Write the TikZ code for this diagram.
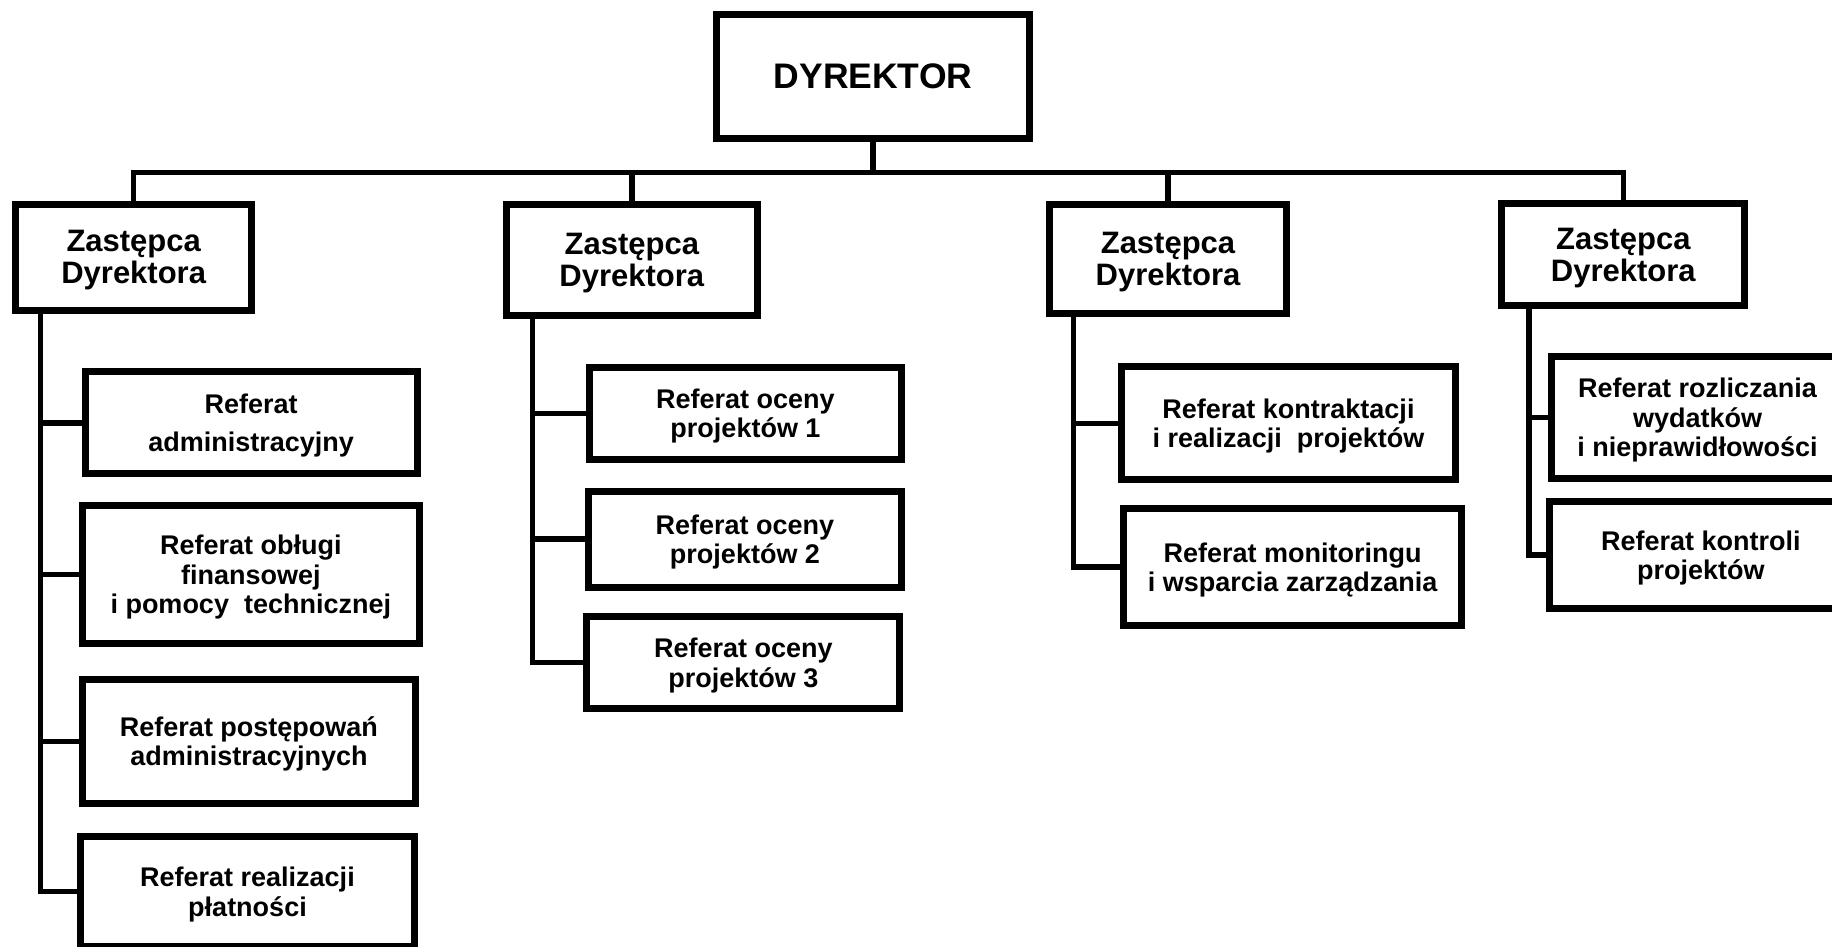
\documentclass[tikz,border=0pt]{standalone}
\usepackage{fontspec}
\setmainfont{Liberation Sans}
\begin{document}
\begin{tikzpicture}[x=1pt,y=-1pt,
  box/.style={draw, line width=7pt, fill=white, inner sep=0pt, align=center,
    text depth=0pt, font=\bfseries\fontsize{27}{29.5}\selectfont},
  deputy/.style={box, font=\bfseries\fontsize{31}{32}\selectfont},
  chief/.style={box, font=\bfseries\fontsize{35.5}{40}\selectfont},
  wh/.style 2 args={minimum width=#1pt, minimum height=#2pt},
  conn/.style={line width=5.5pt, line join=miter},
]
\useasboundingbox (0,0) rectangle (1832,946);
\fill[white] (0,0) rectangle (1832,946);
\clip (0,0) rectangle (1832,946);

% top level
\node[chief, wh={313.6}{123.7}] (dyr) at (873,76.3) {DYREKTOR};

% deputies
\node[deputy, wh={235.7}{106.3}] (z1) at (133.7,257.3) {Zastępca\\Dyrektora};
\node[deputy, wh={251.3}{111.3}] (z2) at (631.8,259.8) {Zastępca\\Dyrektora};
\node[deputy, wh={237}{109}]     (z3) at (1168,258.7)  {Zastępca\\Dyrektora};
\node[deputy, wh={243}{102.3}]   (z4) at (1623.3,254.7) {Zastępca\\Dyrektora};

% units under deputy 1
\node[box, wh={332}{102}]     (a1) at (251.2,422.8) {Referat\\[9pt]administracyjny};
\node[box, wh={336.7}{137.4}] (a2) at (250.8,574.5) {Referat obługi\\finansowej\\i pomocy\ \ technicznej};
\node[box, wh={333}{123.7}]   (a3) at (249,741.3)   {Referat postępowań\\administracyjnych};
\node[box, wh={334.6}{109.7}] (a4) at (247.5,891.7) {Referat realizacji\\płatności};

% units under deputy 2
\node[box, wh={312}{91.7}] (b1) at (745.5,413.3) {Referat oceny\\projektów 1};
\node[box, wh={313}{96}]   (b2) at (745,539.2)   {Referat oceny\\projektów 2};
\node[box, wh={313}{91.4}] (b3) at (743.3,662.5) {Referat oceny\\projektów 3};

% units under deputy 3
\node[box, wh={334.6}{113}]   (c1) at (1288.5,423.3) {Referat kontraktacji\\i realizacji\ \ projektów};
\node[box, wh={337.6}{116.7}] (c2) at (1292.7,567.2) {Referat monitoringu\\i wsparcia zarządzania};

% units under deputy 4
\node[box, wh={291.4}{121.4}] (d1) at (1697.5,417.5) {Referat rozliczania\\wydatków\\i nieprawidłowości};
\node[box, wh={303.2}{107.3}] (d2) at (1700.8,555.2) {Referat kontroli\\projektów};

% main bus
\coordinate (bus) at (0,172.5);
\draw[conn] (dyr.south) -- (dyr.south |- bus);
\draw[conn] (z1.north) -- (z1.north |- bus) -- (z4.north |- bus) -- (z4.north);
\draw[conn] (z2.north) -- (z2.north |- bus);
\draw[conn] (z3.north) -- (z3.north |- bus);

% vertical stems
\coordinate (s1) at (40.5,0);
\coordinate (s2) at (532.3,0);
\coordinate (s3) at (1073.3,0);
\coordinate (s4) at (1529,0);

\draw[conn] (z1.south -| s1) |- (a4.west);
\draw[conn] (a1.west) -- (a1.west -| s1);
\draw[conn] (a2.west) -- (a2.west -| s1);
\draw[conn] (a3.west) -- (a3.west -| s1);

\draw[conn] (z2.south -| s2) |- (b3.west);
\draw[conn] (b1.west) -- (b1.west -| s2);
\draw[conn] (b2.west) -- (b2.west -| s2);

\draw[conn] (z3.south -| s3) |- (c2.west);
\draw[conn] (c1.west) -- (c1.west -| s3);

\draw[conn] (z4.south -| s4) |- (d2.west);
\draw[conn] (d1.west) -- (d1.west -| s4);
\end{tikzpicture}
\end{document}
